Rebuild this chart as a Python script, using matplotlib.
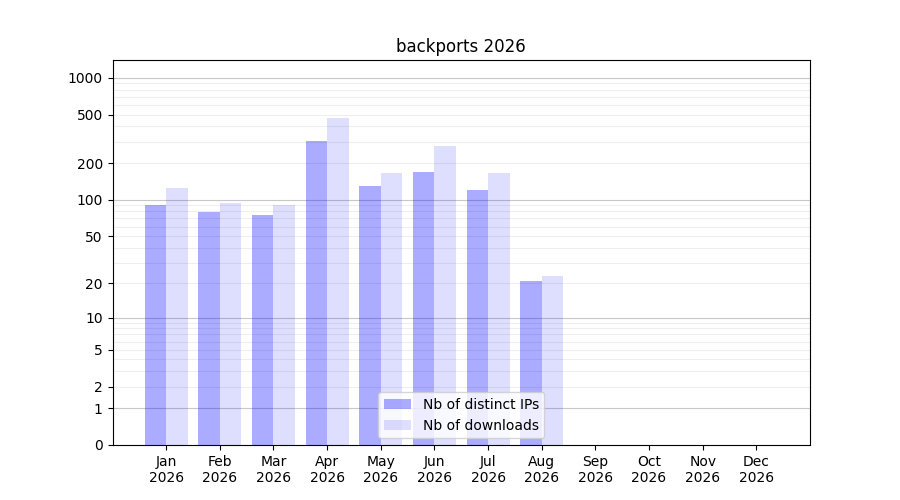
import numpy as np
import matplotlib
matplotlib.use('Agg')
import matplotlib.pyplot as plt

# monthly stats
months = ['Jan', 'Feb', 'Mar', 'Apr', 'May', 'Jun',
          'Jul', 'Aug', 'Sep', 'Oct', 'Nov', 'Dec']
year = '2026'
distinct_ips = [90, 79, 75, 305, 130, 170, 121, 21, 0, 0, 0, 0]
downloads = [125, 94, 91, 471, 166, 278, 166, 23, 0, 0, 0, 0]

y_ticks = [0, 1, 2, 5, 10, 20, 50, 100, 200, 500, 1000]
major_grid = [1, 10, 100, 1000]
minor_grid = [m * d for d in (1, 10, 100) for m in range(2, 10)]

WIDTH = 0.4


def fwd(v):
    return np.log10(1 + np.clip(v, 0, None))


def inv(v):
    return 10 ** v - 1


fig, ax = plt.subplots(figsize=(9, 5), dpi=100)
x = np.arange(len(months))

ax.bar(x, distinct_ips, width=-WIDTH, align='edge', color='blue', alpha=0.33,
       label='Nb of distinct IPs')
ax.bar(x, downloads, width=WIDTH, align='edge', color='blue', alpha=0.13,
       label='Nb of downloads')

ax.set_yscale('function', functions=(fwd, inv))
ax.set_ylim(0, 1400)
ax.set_xlim(-1, 12)

ax.set_yticks(y_ticks)
ax.set_yticklabels([str(t) for t in y_ticks])
ax.yaxis.set_minor_locator(matplotlib.ticker.NullLocator())

for g in minor_grid:
    ax.axhline(g, color='#eeeeee', lw=0.8, zorder=0)
for g in major_grid:
    ax.axhline(g, color='#c8c8c8', lw=0.8, zorder=0)

ax.set_xticks(x)
ax.set_xticklabels([f'{m}\n{year}' for m in months])

ax.set_title('backports 2026')
ax.legend(loc='lower center')

fig.savefig('out.png')
